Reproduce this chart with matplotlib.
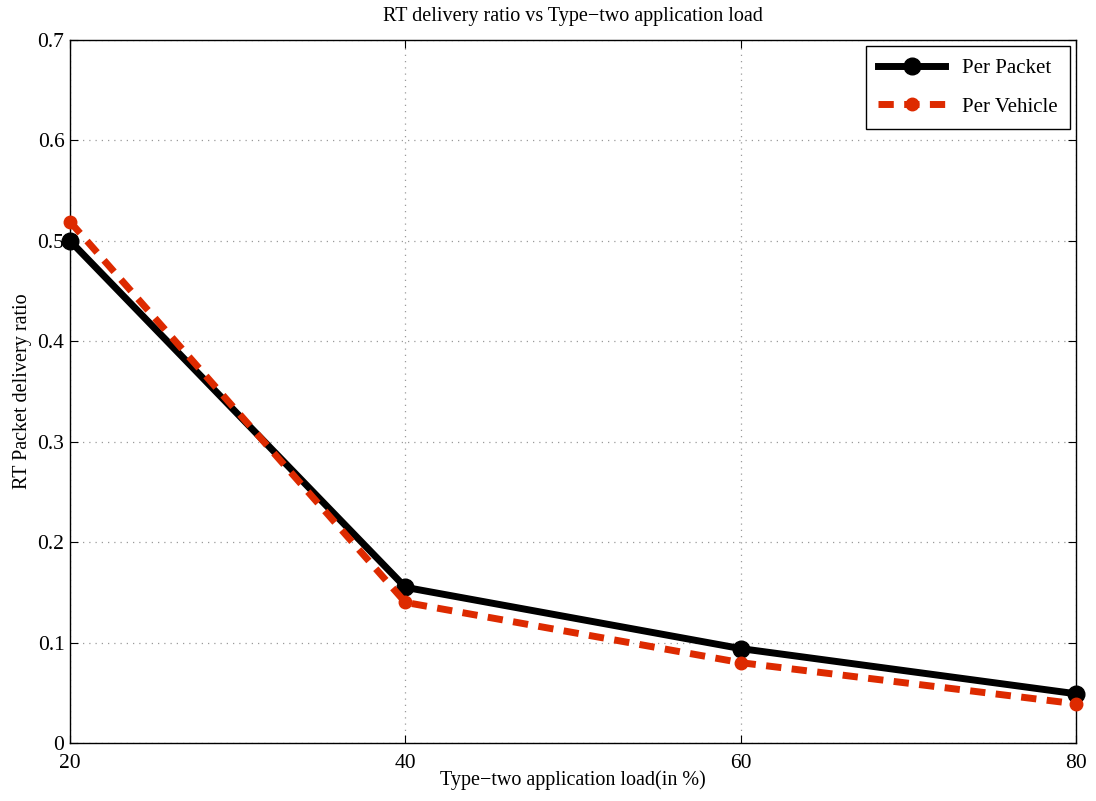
import matplotlib
matplotlib.use("Agg")
import matplotlib.pyplot as plt

plt.rcParams["font.family"] = ["Liberation Serif", "DejaVu Serif"]

load = [20, 40, 60, 80]
per_packet = [0.500, 0.155, 0.094, 0.049]
per_vehicle = [0.519, 0.140, 0.080, 0.039]

RED = "#dd2a00"

fig = plt.figure(figsize=(10.96, 8.01), dpi=100)
ax = fig.add_axes([0.0639, 0.0724, 0.918, 0.8777])

ax.plot(load, per_packet, "-o", color="black", lw=5, ms=12, label="Per Packet",
        zorder=3, clip_on=False)
ax.plot(load, per_vehicle, "--o", color=RED, lw=5, ms=9, dashes=(2.2, 1.5),
        label="Per Vehicle", zorder=4, clip_on=False)

ax.set_xlim(20, 80)
ax.set_ylim(0, 0.7)
ax.set_xticks([20, 40, 60, 80])
ax.set_yticks([0, 0.1, 0.2, 0.3, 0.4, 0.5, 0.6, 0.7])
ax.set_yticklabels(["0", "0.1", "0.2", "0.3", "0.4", "0.5", "0.6", "0.7"])
ax.tick_params(direction="in", top=True, right=True, labelsize=15.5, length=6)
ax.tick_params(axis="x", pad=8)
ax.tick_params(axis="y", pad=4)
ax.grid(True, color="#9a9a9a", ls=(0, (1, 4)), lw=0.9)
for s in ax.spines.values():
    s.set_linewidth(1.0)

ax.set_xlabel("Type\u2212two application load(in %)", fontsize=14.5, labelpad=-2)
ax.set_ylabel("RT Packet delivery ratio", fontsize=14.5, labelpad=4)
ax.set_title("RT delivery ratio vs Type\u2212two application load", fontsize=14.5, pad=14)

leg = ax.legend(loc="upper right", fontsize=15, fancybox=False, edgecolor="black",
                framealpha=1, handlelength=3.2, borderpad=0.6, labelspacing=0.9,
                borderaxespad=0.3)
leg.get_frame().set_linewidth(1.0)

fig.savefig("out.png", dpi=100)
